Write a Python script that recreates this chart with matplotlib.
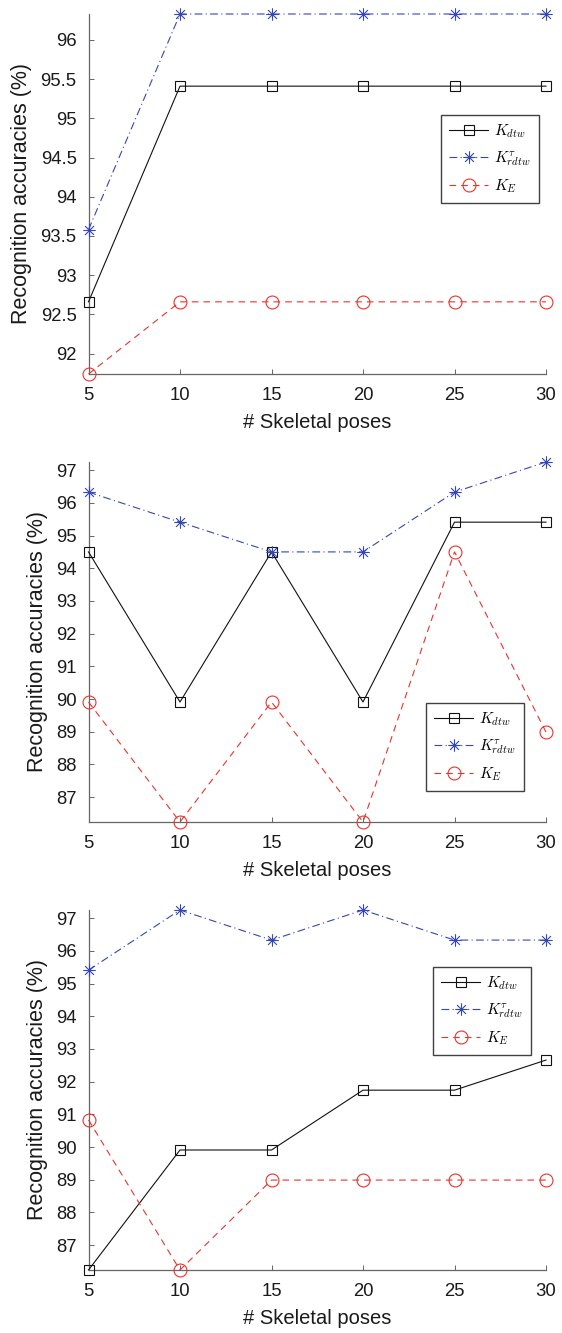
import numpy as np
import matplotlib
matplotlib.use("Agg")
import matplotlib.pyplot as plt
from matplotlib.path import Path

plt.rcParams['font.family'] = ['Liberation Sans', 'DejaVu Sans']
plt.rcParams['mathtext.fontset'] = 'cm'

poses = [5, 10, 15, 20, 25, 30]

# panel 1
dtw_1 = [92.66, 95.41, 95.41, 95.41, 95.41, 95.41]
rdtw_1 = [93.58, 96.33, 96.33, 96.33, 96.33, 96.33]
e_1 = [91.74, 92.66, 92.66, 92.66, 92.66, 92.66]

# panel 2
dtw_2 = [94.50, 89.91, 94.50, 89.91, 95.41, 95.41]
rdtw_2 = [96.33, 95.41, 94.50, 94.50, 96.33, 97.25]
e_2 = [89.91, 86.24, 89.91, 86.24, 94.50, 88.99]

# panel 3
dtw_3 = [86.24, 89.91, 89.91, 91.74, 91.74, 92.66]
rdtw_3 = [95.41, 97.25, 96.33, 97.25, 96.33, 96.33]
e_3 = [90.83, 86.24, 88.99, 88.99, 88.99, 88.99]

yticks_1 = [92, 92.5, 93, 93.5, 94, 94.5, 95, 95.5, 96]
ytick_labels_1 = ['92', '92.5', '93', '93.5', '94', '94.5', '95', '95.5', '96']
yticks_23 = [87, 88, 89, 90, 91, 92, 93, 94, 95, 96, 97]

W, H = 562, 1333
fig = plt.figure(figsize=(W / 100, H / 100), dpi=100)

blue = '#3447b2'
red = '#e6332c'
axis_col = '#666666'

# matlab style asterisk (+ and x on top of each other)
d = 0.707
asterisk = Path([(0, -1), (0, 1), (-1, 0), (1, 0), (-d, -d), (d, d), (-d, d), (d, -d)],
                [Path.MOVETO, Path.LINETO] * 4)


def pax(left, top, right, bottom):
    return fig.add_axes([left / W, 1 - bottom / H, (right - left) / W, (bottom - top) / H])


def draw(ax, dtw, rdtw, e, ylim, yticks, ylabels, leg_xy):
    ax.plot(poses, dtw, color='#111111', linestyle='-', linewidth=0.8,
            marker='s', markersize=7.5, markerfacecolor='none', markeredgewidth=0.8,
            label=r'$K_{dtw}$', clip_on=False, zorder=3)
    ax.plot(poses, rdtw, color=blue, linestyle='-.', linewidth=0.8, dashes=(7, 3, 1, 3),
            marker=asterisk, markersize=9, markerfacecolor='none', markeredgewidth=0.8,
            label=r'$K^{\tau}_{rdtw}$', clip_on=False, zorder=3)
    ax.plot(poses, e, color=red, linestyle='--', linewidth=0.8, dashes=(6, 4.5),
            marker='o', markersize=9.3, markerfacecolor='none', markeredgewidth=0.8,
            label=r'$K_E$', clip_on=False, zorder=3)
    ax.set_xlim(5, 30)
    ax.set_ylim(*ylim)
    ax.set_xticks(poses)
    ax.set_yticks(yticks)
    ax.set_yticklabels(ylabels)
    ax.spines['top'].set_visible(False)
    ax.spines['right'].set_visible(False)
    for s in ['left', 'bottom']:
        ax.spines[s].set_color(axis_col)
        ax.spines[s].set_linewidth(0.9)
    ax.tick_params(direction='in', length=3.5, width=0.7, color=axis_col,
                   labelsize=13.3, labelcolor='#1a1a1a')
    ax.tick_params(axis='x', pad=9)
    ax.tick_params(axis='y', pad=8.5)
    ax.set_xlabel('# Skeletal poses', fontsize=14.5, labelpad=7, color='#1a1a1a')
    ax.set_ylabel('Recognition accuracies (%)', fontsize=15.5, labelpad=6, color='#1a1a1a')
    x0, y0 = leg_xy
    leg = ax.legend(loc='upper left', bbox_to_anchor=(x0 / W, 1 - y0 / H),
                    bbox_transform=fig.transFigure, fontsize=11, frameon=True,
                    fancybox=False, edgecolor='#111111', handlelength=2.6,
                    borderpad=0.5, labelspacing=0.6, handletextpad=0.4,
                    borderaxespad=0)
    leg.get_frame().set_linewidth(1.0)


ax1 = pax(88.5, 14, 546, 374)
draw(ax1, dtw_1, rdtw_1, e_1, (91.74, 96.33), yticks_1, ytick_labels_1, (441, 115))

ax2 = pax(88.5, 462, 546, 822)
draw(ax2, dtw_2, rdtw_2, e_2, (86.24, 97.25), yticks_23, [str(v) for v in yticks_23], (426, 703))

ax3 = pax(88.5, 910, 546, 1270)
draw(ax3, dtw_3, rdtw_3, e_3, (86.24, 97.25), yticks_23, [str(v) for v in yticks_23], (433, 967))

fig.savefig('out.png', dpi=100)
